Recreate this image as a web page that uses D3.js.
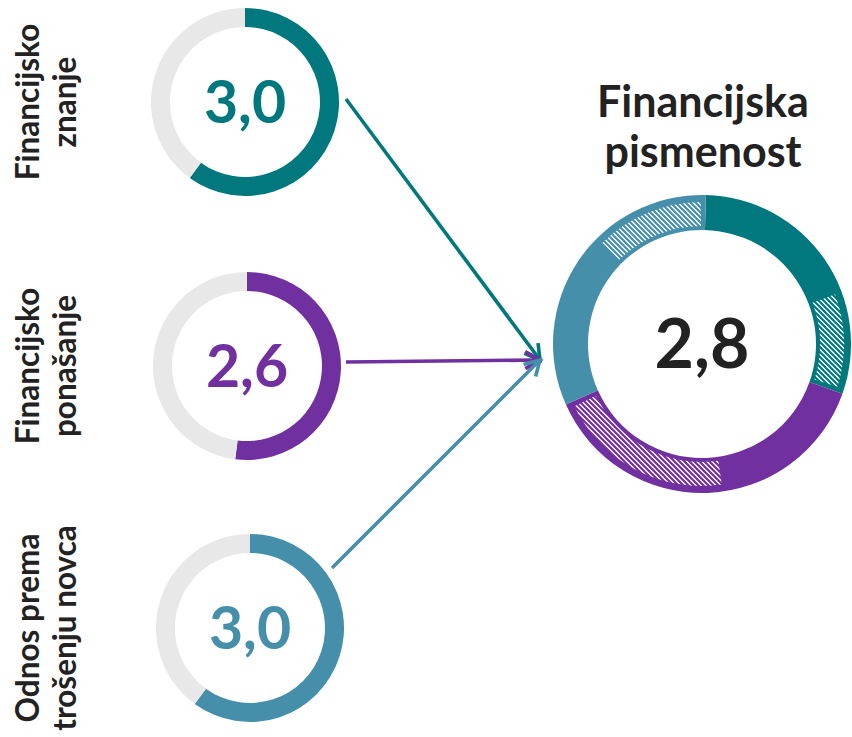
<!DOCTYPE html>
<html><head><meta charset="utf-8">
<script src="https://cdn.jsdelivr.net/npm/d3@7"></script>
<style>body{margin:0;background:#fff} svg{display:block}</style>
</head><body>
<script>
// ---- data ----
const categories = ["Financijsko znanje", "Financijsko ponašanje", "Odnos prema trošenju novca"];
const labelLines = [["Financijsko", "znanje"], ["Financijsko", "ponašanje"], ["Odnos prema", "trošenju novca"]];
const scores = [3.0, 2.6, 3.0];
const scoreLabels = ["3,0", "2,6", "3,0"];
const maxScore = 5;
const totalLabel = "2,8";
const titleLines = ["Financijska", "pismenost"];
// big ring: share of circle (degrees) per component, and its solid part
const ringSpan = [108, 136.5, 115.5];
const ringSolid = [66.5, 61, 68];
const colors = ["#00787E", "#7030A0", "#468FAA"];

// ---- layout ----
const W = 852, H = 737;
const font = "Lato, 'Open Sans', sans-serif";
const small = { R: 94, r: 75, cx: [245, 247, 250], cy: [102, 366, 628] };
const big = { cx: 702, cy: 344, R: 149, r: 114, offset: 1.5 };
const arrowFrom = [[346, 99], [346, 362], [332, 568]];
const arrowTo = [540, 360];

const svg = d3.select("body").append("svg").attr("width", W).attr("height", H);
const defs = svg.append("defs");
colors.forEach((c, i) => {
  const p = defs.append("pattern").attr("id", "hatch" + i)
    .attr("patternUnits", "userSpaceOnUse").attr("width", 5).attr("height", 5);
  p.append("rect").attr("width", 5).attr("height", 5).attr("fill", "#fff");
  p.append("path").attr("d", "M0,0L5,5M-1,4L1,6M4,-1L6,1")
    .attr("stroke", c).attr("stroke-width", 2.2);
});

const deg = d3.scaleLinear().domain([0, 360]).range([0, 2 * Math.PI]);

// ---- small donuts ----
const pie = d3.pie().sort(null).value(d => d);
const smallArc = d3.arc().innerRadius(small.r).outerRadius(small.R);
scores.forEach((s, i) => {
  const g = svg.append("g").attr("transform", `translate(${small.cx[i]},${small.cy[i]})`);
  g.selectAll("path").data(pie([s, maxScore - s])).join("path")
    .attr("d", smallArc)
    .attr("fill", (d, j) => j === 0 ? colors[i] : "#E8E8E8");
  g.append("text").attr("text-anchor", "middle").attr("dy", "0.36em")
    .attr("font-family", font).attr("font-weight", 700).attr("font-size", 59)
    .attr("fill", colors[i]).text(scoreLabels[i]);

  // rotated category labels
  const t = svg.append("text")
    .attr("transform", `translate(${28},${small.cy[i]}) rotate(-90)`)
    .attr("text-anchor", "middle").attr("font-family", font)
    .attr("font-weight", 700).attr("font-size", 31.5).attr("fill", "#222");
  labelLines[i].forEach((ln, k) => {
    t.append("tspan").attr("x", 0).attr("y", k * 37 + 11).text(ln);
  });
});

// ---- arrows ----
arrowFrom.forEach((p, i) => {
  const g = svg.append("g").attr("stroke", colors[i]).attr("stroke-width", 3.6)
    .attr("fill", "none").attr("stroke-linecap", "butt");
  g.append("line").attr("x1", p[0]).attr("y1", p[1]).attr("x2", arrowTo[0]).attr("y2", arrowTo[1]);
  const ang = Math.atan2(arrowTo[1] - p[1], arrowTo[0] - p[0]);
  const L = 17, spread = Math.PI / 6;
  const a1 = [arrowTo[0] - L * Math.cos(ang - spread), arrowTo[1] - L * Math.sin(ang - spread)];
  const a2 = [arrowTo[0] - L * Math.cos(ang + spread), arrowTo[1] - L * Math.sin(ang + spread)];
  g.append("path").attr("d", `M${a1}L${arrowTo}L${a2}`).attr("stroke-linejoin", "miter");
});

// ---- big ring ----
const bg = svg.append("g").attr("transform", `translate(${big.cx},${big.cy})`);
const bigPie = d3.pie().sort(null).value(d => d)
  .startAngle(deg(big.offset)).endAngle(deg(big.offset + 360));
const slices = bigPie(ringSpan);
const fullArc = d3.arc().innerRadius(big.r).outerRadius(big.R);
const hatchArc = d3.arc().innerRadius(big.r + 4).outerRadius(big.R - 7);
bg.selectAll("path.seg").data(slices).join("path").attr("class", "seg")
  .attr("d", fullArc).attr("fill", (d, i) => colors[i]);
bg.selectAll("path.hatch").data(slices).join("path").attr("class", "hatch")
  .attr("d", (d, i) => hatchArc({
    startAngle: d.startAngle + deg(ringSolid[i] + 1.5),
    endAngle: d.endAngle - deg(2)
  }))
  .attr("fill", (d, i) => `url(#hatch${i})`);
bg.append("text").attr("text-anchor", "middle").attr("dy", "0.36em")
  .attr("font-family", font).attr("font-weight", 700).attr("font-size", 68)
  .attr("fill", "#222").text(totalLabel);

// title
const tt = svg.append("text").attr("text-anchor", "middle").attr("font-family", font)
  .attr("font-weight", 700).attr("font-size", 43).attr("fill", "#222");
titleLines.forEach((ln, k) => {
  tt.append("tspan").attr("x", big.cx + 1).attr("y", 117 + k * 50).text(ln);
});
</script>
</body></html>
